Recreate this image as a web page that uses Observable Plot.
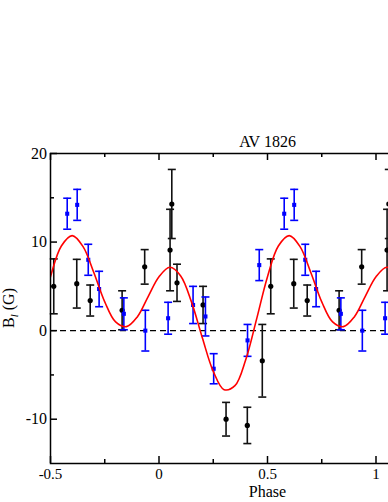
<!DOCTYPE html>
<html><head><meta charset="utf-8">
<script src="https://cdn.jsdelivr.net/npm/d3@7"></script>
<script src="https://cdn.jsdelivr.net/npm/@observablehq/plot@0.6"></script>
<style>
html,body{margin:0;padding:0;background:#fff;overflow:hidden;}
</style></head><body><div id="chart"></div>
<script>
// ---- data ----
const title = "AV 1826";
const xLabel = "Phase";
// black measurements: phase, B_l (G), error (G)
const blackPhase = [-0.485, -0.379, -0.317, -0.170, -0.066, 0.051, 0.059, 0.083, 0.203, 0.309, 0.407, 0.476];
const blackB     = [5.0, 5.3, 3.4, 2.3, 7.2, 9.1, 14.3, 5.4, 2.9, -10.0, -10.7, -3.4];
const blackErr   = [3.1, 2.75, 1.75, 2.2, 1.95, 4.6, 3.9, 2.1, 2.1, 1.9, 2.05, 4.1];
// blue measurements
const bluePhase = [-0.423, -0.377, -0.326, -0.276, -0.162, -0.063, 0.042, 0.157, 0.214, 0.252, 0.408, 0.462];
const blueB     = [13.2, 14.2, 8.0, 4.7, 1.9, 0.0, 1.4, 2.9, 1.6, -4.3, -1.1, 7.4];
const blueErr   = [1.75, 1.75, 1.75, 2.0, 1.8, 2.3, 1.8, 2.1, 2.2, 1.7, 1.8, 1.75];
// red fit curve, one rotation period
const curvePhase = [0, 0.05, 0.10, 0.15, 0.20, 0.25, 0.30, 0.35, 0.40, 0.45, 0.50, 0.55, 0.60, 0.65, 0.70, 0.75, 0.80, 0.85, 0.90, 0.95];
const curveB     = [6.09, 7.16, 6.18, 3.22, -0.83, -4.59, -6.66, -6.21, -3.25, 1.33, 6.09, 9.55, 10.73, 9.49, 6.54, 3.25, 0.98, 0.45, 1.55, 3.85];
// phases are folded: data repeat every cycle
const cycles = [0, 1];
const curveCycles = [-1, 0, 1];
// axes
const xMajor = [-0.5, 0, 0.5, 1, 1.5];
const xLabels = [-0.5, 0, 0.5, 1];
const xMinor = [-0.25, 0.25, 0.75, 1.25];
const yMajor = [-10, 0, 10, 20];
const yMinor = [-5, 5, 15];
const xDomain = [-0.5, 1.5];
const yDomain = [-15, 20];

// ---- build tables ----
const black = cycles.flatMap(k => blackPhase.map((p, i) => ({phase: p + k, b: blackB[i], e: blackErr[i]})));
const blue  = cycles.flatMap(k => bluePhase.map((p, i) => ({phase: p + k, b: blueB[i], e: blueErr[i]})));
const curve = curveCycles.flatMap(k => curvePhase.map((p, i) => ({phase: p + k, b: curveB[i]})))
  .filter(d => d.phase >= xDomain[0] - 0.1 && d.phase <= xDomain[1] + 0.1)
  .sort((a, b) => a.phase - b.phase);

const W = 500, H = 502, ML = 50, MR = 16, MT = 153, MB = 39;
const FW = W - ML - MR, FH = H - MT - MB;
const MAJ = 7, MIN = 4;
const cap = {draw(ctx) { ctx.moveTo(-4, 0); ctx.lineTo(4, 0); }};

function errMarks(data, color) {
  return [
    Plot.ruleX(data, {x: "phase", y1: d => d.b - d.e, y2: d => d.b + d.e, stroke: color, strokeWidth: 1.6}),
    Plot.dot(data, {x: "phase", y: d => d.b - d.e, symbol: cap, fill: "none", stroke: color, strokeWidth: 1.6}),
    Plot.dot(data, {x: "phase", y: d => d.b + d.e, symbol: cap, fill: "none", stroke: color, strokeWidth: 1.6})
  ];
}

const plot = Plot.plot({
  width: W, height: H,
  marginLeft: ML, marginRight: MR, marginTop: MT, marginBottom: MB,
  style: {fontFamily: "'Liberation Serif', 'Times New Roman', serif", fontSize: "16px", background: "#fff", maxWidth: "none", color: "#000"},
  x: {domain: xDomain},
  y: {domain: yDomain},
  marks: [
    Plot.ruleY([0], {stroke: "#000", strokeWidth: 1.4, strokeDasharray: "6,4"}),
    ...errMarks(black, "#111"),
    Plot.dot(black, {x: "phase", y: "b", r: 2.6, fill: "#000"}),
    ...errMarks(blue, "#0000ff"),
    Plot.dot(blue, {x: "phase", y: "b", r: 2.3, symbol: "square", fill: "#0000ff"}),
    Plot.line(curve, {x: "phase", y: "b", curve: "catmull-rom", stroke: "#ff0000", strokeWidth: 1.6, clip: true}),
    Plot.frame({stroke: "#000", strokeWidth: 1.5}),
    // inward ticks
    Plot.tickX(xMajor, {x: d => d, insetTop: FH - MAJ, stroke: "#000", strokeWidth: 1.5}),
    Plot.tickX(xMajor, {x: d => d, insetBottom: FH - MAJ, stroke: "#000", strokeWidth: 1.5}),
    Plot.tickX(xMinor, {x: d => d, insetTop: FH - MIN, stroke: "#000", strokeWidth: 1.5}),
    Plot.tickX(xMinor, {x: d => d, insetBottom: FH - MIN, stroke: "#000", strokeWidth: 1.5}),
    Plot.tickY(yMajor, {y: d => d, insetRight: FW - MAJ, stroke: "#000", strokeWidth: 1.5}),
    Plot.tickY(yMinor, {y: d => d, insetRight: FW - MIN, stroke: "#000", strokeWidth: 1.5}),
    Plot.axisX({ticks: xLabels, tickSize: 0, tickPadding: 5, tickFormat: d => String(d), label: null, fontSize: 15}),
    Plot.axisY({ticks: yMajor, tickSize: 0, tickPadding: 3.5, tickFormat: d => String(d), label: null, fontSize: 16}),
    Plot.text([title], {frameAnchor: "top", dy: -7, lineAnchor: "bottom", fontSize: 16, fill: "#000"}),
    Plot.text([xLabel], {frameAnchor: "bottom", dy: 33, lineAnchor: "bottom", fontSize: 16, fill: "#000"})
  ]
});

// y-axis label with italic subscript
const svg = d3.select(plot);
const yl = svg.append("text")
  .attr("transform", `translate(14,${MT + FH / 2}) rotate(-90)`)
  .attr("text-anchor", "middle").attr("font-size", 16).attr("fill", "#000");
yl.append("tspan").text("B");
yl.append("tspan").attr("font-style", "italic").attr("font-size", 11).attr("dy", 4).text("l");
yl.append("tspan").attr("dy", -4).text(" (G)");

document.getElementById("chart").appendChild(plot);
</script></body></html>
